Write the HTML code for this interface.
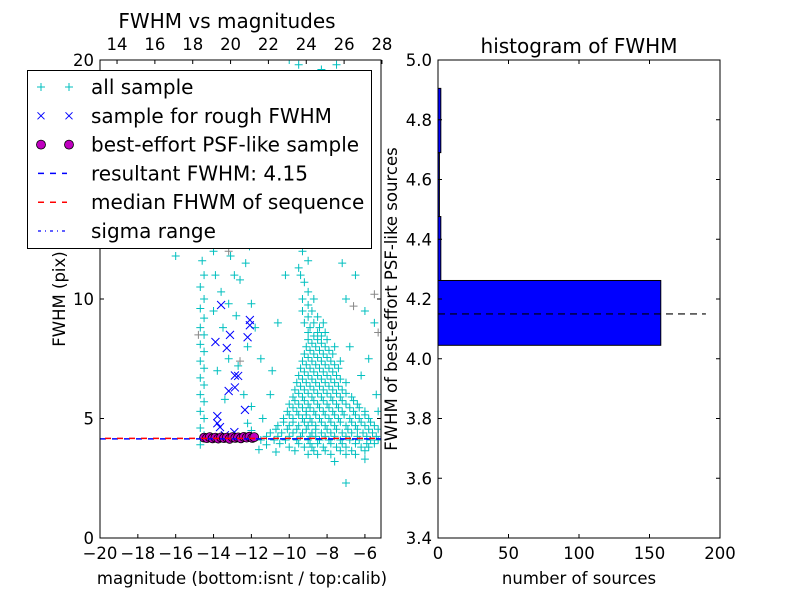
<!DOCTYPE html>
<html><head><meta charset="utf-8"><style>
body{margin:0;background:#fff}
svg{display:block;font-family:"DejaVu Sans","Liberation Sans",sans-serif}
</style></head><body>
<svg id="chart" width="800" height="600"></svg>
<script>
// ---------- data ----------
const xTicks=[-20,-18,-16,-14,-12,-10,-8,-6];
const yTicks=[0,5,10];
const topTicks=[14,16,18,20,22,24,26,28];
const histYTicks=[3.4,3.6,3.8,4.0,4.2,4.4,4.6,4.8,5.0];
const histXTicks=[0,50,100,150,200];
const binEdges=[4.045,4.262,4.476,4.690,4.905];
const binCounts=[158,2,1,2];
const resultFWHM=4.15;
const medianFWHM=4.17;
const allSample=[
-9,3.5,-8.5,3.5,-7.8,3.5,-7,3.5,-6.5,3.5,
-10,3.8,-9.2,3.8,-8.8,3.8,-8.2,3.8,-7.5,3.8,-7,3.8,-6.2,3.8,-5.8,3.8,
-11.5,4.1,-10.8,4.1,-10.2,4.1,-9.6,4.1,-9,4.1,-8.4,4.1,-7.9,4.1,-7.3,4.1,-6.8,4.1,-6.3,4.1,-5.7,4.1,-5.3,4.1,
-11,4.4,-10.4,4.4,-9.8,4.4,-9.3,4.4,-8.8,4.4,-8.3,4.4,-7.8,4.4,-7.2,4.4,-6.7,4.4,-6.1,4.4,-5.6,4.4,
-10.6,4.7,-10,4.7,-9.5,4.7,-9,4.7,-8.6,4.7,-8.1,4.7,-7.6,4.7,-7,4.7,-6.5,4.7,-6,4.7,-5.5,4.7,
-10.3,5,-9.8,5,-9.3,5,-8.9,5,-8.4,5,-7.9,5,-7.4,5,-6.8,5,-6.3,5,-5.8,5,
-10.1,5.3,-9.6,5.3,-9.1,5.3,-8.7,5.3,-8.2,5.3,-7.7,5.3,-7.2,5.3,-6.6,5.3,-6,5.3,
-10,5.6,-9.5,5.6,-9,5.6,-8.5,5.6,-8,5.6,-7.5,5.6,-7,5.6,-6.4,5.6,
-9.8,5.9,-9.3,5.9,-8.8,5.9,-8.3,5.9,-7.8,5.9,-7.3,5.9,-6.7,5.9,
-9.7,6.2,-9.2,6.2,-8.7,6.2,-8.2,6.2,-7.7,6.2,-7.2,6.2,
-9.6,6.5,-9.1,6.5,-8.6,6.5,-8.1,6.5,-7.6,6.5,-7,6.5,
-9.5,6.8,-9,6.8,-8.5,6.8,-8,6.8,-7.5,6.8,
-9.4,7.1,-8.9,7.1,-8.4,7.1,-7.9,7.1,-7.4,7.1,
-9.3,7.4,-8.8,7.4,-8.3,7.4,-7.8,7.4,-7.3,7.4,
-9.2,7.7,-8.7,7.7,-8.2,7.7,-7.7,7.7,
-9.1,8,-8.6,8,-8.1,8,-7.6,8,
-9,8.3,-8.5,8.3,-8,8.3,-9,8.6,-8.5,8.6,-8.1,8.6,
-9.2,9,-8.7,9,-8.2,9,-9.3,9.5,-8.8,9.5,-9.3,10,-8.7,10,
// offset rows for density
-9.7,3.65,-8.7,3.65,-8.1,3.65,-7.3,3.65,-6.7,3.65,-6.0,3.65,
-10.5,3.95,-9.5,3.95,-8.9,3.95,-8.5,3.95,-7.8,3.95,-7.2,3.95,-6.5,3.95,-5.9,3.95,-5.5,3.95,
-11.2,4.25,-10.6,4.25,-10,4.25,-9.4,4.25,-8.9,4.25,-8.6,4.25,-8.1,4.25,-7.6,4.25,-7,4.25,-6.4,4.25,-5.9,4.25,-5.4,4.25,
-10.7,4.55,-10.1,4.55,-9.6,4.55,-9.1,4.55,-8.6,4.55,-8.0,4.55,-7.5,4.55,-6.9,4.55,-6.4,4.55,-5.8,4.55,-5.3,4.55,
-10.3,4.85,-9.8,4.85,-9.2,4.85,-8.8,4.85,-8.3,4.85,-7.8,4.85,-7.3,4.85,-6.7,4.85,-6.2,4.85,-5.7,4.85,
-10.0,5.15,-9.5,5.15,-9.1,5.15,-8.6,5.15,-8.1,5.15,-7.6,5.15,-7.1,5.15,-6.5,5.15,-6.0,5.15,
-9.8,5.45,-9.3,5.45,-8.9,5.45,-8.4,5.45,-7.9,5.45,-7.4,5.45,-6.8,5.45,-6.3,5.45,
-9.7,5.75,-9.2,5.75,-8.7,5.75,-8.2,5.75,-7.7,5.75,-7.2,5.75,-6.6,5.75,
-9.5,6.05,-9,6.05,-8.5,6.05,-8,6.05,-7.5,6.05,-7,6.05,
-9.4,6.35,-8.9,6.35,-8.4,6.35,-7.9,6.35,-7.4,6.35,
-9.3,6.65,-8.8,6.65,-8.3,6.65,-7.8,6.65,-7.3,6.65,
-9.2,6.95,-8.7,6.95,-8.2,6.95,-7.7,6.95,
-9.1,7.25,-8.6,7.25,-8.1,7.25,-7.6,7.25,
-9.0,7.55,-8.5,7.55,-8.0,7.55,-8.9,7.85,-8.4,7.85,-7.9,7.85,
-8.8,8.15,-8.3,8.15,-8.7,8.45,-8.3,8.45,-8.9,8.8,-8.4,8.8,-9.0,9.25,-8.5,9.25,-9.0,9.75,-9.0,10.3,
-9.4,11,-9,11.6,-9.6,12.3,-9.2,13,-9.5,13.8,-9.1,14.5,-9.4,15.2,-9.8,16,-9.3,16.8,-9.6,17.6,-9.2,18.4,-9.7,19.2,-9.5,19.8,
-9.2,10.7,-9.5,11.3,-9.3,12.0,-9.4,12.7,-9.3,13.4,-9.6,14.2,-9.2,15.8,-9.5,16.4,-9.4,17.2,-9.4,18.0,
-10.5,18,-10.8,13.5,-11,15,-8,17,-7.5,13,-7.2,11.5,-10.2,11,-10.6,9,-8.3,19.6,-7.5,19.8,-6.5,11,-6,9.5,-5.5,9,-7,10,
-10.9,7,-11,6,-11.4,5,-12,5.5,-12,4.5,-11.5,7.5,-11.8,8.8,-10.5,14.8,-8.5,12.5,-10,20,-9.9,18.7,-8.8,15.5,
-6.8,8,-6.2,6.8,-5.8,7.5,-5.4,6,-5.3,5.3,-7,2.3,-7.6,3.2,-6,3.3,
-14.7,3.9,-14.5,4.3,-14.7,4.6,-14.5,5,-14.7,5.3,-14.5,5.7,-14.7,6,-14.5,6.4,-14.7,6.7,-14.5,7.1,-14.7,7.4,-14.5,7.8,-14.7,8.1,-14.5,8.5,-14.7,8.8,-14.5,9.2,-14.7,9.6,-14.5,10,-14.7,10.5,-14.5,11,-14.6,11.6,-14.4,12.3,-14.6,13,-14.3,14,
-14,9.5,-13.9,11,-13.6,12.5,-13.4,14,-13.2,15.5,-13.5,17,-13.3,18,-13.6,10.3,-13.2,7.5,-13.4,5.8,-13.1,11.8,-12.9,13.2,
-12.8,9.3,-12.6,10.8,-12.9,16.5,-12.7,7.2,-12.4,6,-12.2,8,-12.3,11.5,-12.1,12.2,-12,9.8,-12.5,14.5,-12.2,4.8,-16,11.8,
-12.6,18.8,-13,19.4,-11.2,3.9,-11.6,3.7,-10.7,3.6,
-13.8,7.0,-13.5,8.8,-13.2,9.8,-12.9,11.0,-12.7,12.5,-13.0,14.8,-12.8,17.5,-13.7,15.8,-14.0,12.0,-12.4,13.5
];
const greySample=[-5.5,10.2,-5.3,8.6,-14.8,8.5,-13.2,12,-6.6,9.7,-12.6,7.4];
const roughSample=[-13.6,9.75,-12.08,9.12,-12.08,8.9,-13.13,8.5,-13.9,8.2,-12.2,8.4,-13.3,7.95,-12.87,6.8,-12.7,6.78,-12.87,6.3,-13.2,6.15,-12.34,5.36,-13.8,5.1,-13.8,4.8,-13.66,4.64,-12.9,4.43,-13.4,4.3];
const psfSample=[-14.5,4.2,-14.35,4.18,-14.2,4.22,-14.05,4.17,-13.9,4.2,-13.75,4.16,-13.6,4.21,-13.45,4.18,-13.3,4.2,-13.15,4.15,-13.0,4.22,-12.85,4.19,-12.7,4.21,-12.55,4.17,-12.4,4.23,-12.25,4.2,-12.1,4.24,-11.95,4.19,-11.85,4.22];

// ---------- helpers ----------
const NS="http://www.w3.org/2000/svg";
const svg=document.getElementById('chart');
function mk(tag,attrs,parent){const e=document.createElementNS(NS,tag);for(const k in attrs)e.setAttribute(k,attrs[k]);(parent||svg).appendChild(e);return e;}
function txt(s,x,y,size,anchor,parent){const t=mk('text',{x:x,y:y,'font-size':size,'text-anchor':anchor||'middle',fill:'#000'},parent);t.textContent=s;return t;}

const L={x0:100,x1:381,y0:538,y1:60};
const xmin=-20,xmax=-5.15,ymin=0,ymax=20;
const sx=v=>L.x0+(v-xmin)/(xmax-xmin)*(L.x1-L.x0);
const sy=v=>L.y0-(v-ymin)/(ymax-ymin)*(L.y0-L.y1);
const calibOff=33.1;
const clip=mk('clipPath',{id:'lc'});mk('rect',{x:L.x0,y:L.y1,width:L.x1-L.x0,height:L.y0-L.y1},clip);
const plotL=mk('g',{'clip-path':'url(#lc)'});



function plus(x,y,c,g){return mk('path',{d:`M${x-4},${y}h8M${x},${y-4}v8`,stroke:c,'stroke-width':1,fill:'none'},g);}
const gAll=mk('g',{},plotL);


for(let i=0;i<greySample.length;i+=2)plus(sx(greySample[i]),sy(greySample[i+1]),'#888',gAll);
for(let i=0;i<allSample.length;i+=2)plus(sx(allSample[i]),sy(allSample[i+1]),'#00bfbf',gAll);
const gR=mk('g',{},plotL);


for(let i=0;i<roughSample.length;i+=2){const x=sx(roughSample[i]),y=sy(roughSample[i+1]);mk('path',{d:`M${x-4},${y-4}l8,8M${x-4},${y+4}l8,-8`,stroke:'#0000ff','stroke-width':1},gR);}
const gP=mk('g',{},plotL);


for(let i=0;i<psfSample.length;i+=2)mk('circle',{cx:sx(psfSample[i]),cy:sy(psfSample[i+1]),r:4.5,fill:'#bf00bf',stroke:'#000','stroke-width':0.8},gP);
const lb=mk('line',{x1:L.x0,x2:L.x1,y1:sy(resultFWHM),y2:sy(resultFWHM),stroke:'#0000ff','stroke-width':1.5,'stroke-dasharray':'6,6'},plotL);

const lr=mk('line',{x1:L.x0+5,x2:L.x1,y1:sy(medianFWHM),y2:sy(medianFWHM),stroke:'#ff0000','stroke-width':1.5,'stroke-dasharray':'6,6'},plotL);


const fr=mk('rect',{x:L.x0,y:L.y1,width:L.x1-L.x0,height:L.y0-L.y1,fill:'none',stroke:'#000','stroke-width':1});

xTicks.forEach(v=>{const x=sx(v);mk('line',{x1:x,x2:x,y1:L.y0,y2:L.y0-4,stroke:'#000'});const t=txt(v<0?'\u2212'+(-v):v,x,559,16.5);});
yTicks.forEach(v=>{const y=sy(v);mk('line',{x1:L.x0,x2:L.x0+4,y1:y,y2:y,stroke:'#000'});mk('line',{x1:L.x1,x2:L.x1-4,y1:y,y2:y,stroke:'#000'});const t=txt(v,94,y+6,16.5,'end');});
{const t=txt('20',94,66,16.5,'end');}
topTicks.forEach(v=>{const x=sx(v-calibOff);mk('line',{x1:x,x2:x,y1:L.y1,y2:L.y1+4,stroke:'#000'});const t=txt(v,x,50,16.5);});
let t;
t=txt('FWHM vs magnitudes',227,28,20);
t=txt('magnitude (bottom:isnt / top:calib)',242,584,16.5);
t=txt('FWHM (pix)',0,0,16.5);t.setAttribute('transform','translate(65,299) rotate(-90)');

const lg=mk('g',{});

mk('rect',{x:27.5,y:70.5,width:344,height:178,fill:'#fff',stroke:'#000','stroke-width':1},lg);
const labels=['all sample','sample for rough FWHM','best-effort PSF-like sample','resultant FWHM: 4.15','median FHWM of sequence','sigma range'];
labels.forEach((s,i)=>{const y=87+i*28.8;
 if(i==0){plus(41,y,'#00bfbf',lg);plus(69,y,'#00bfbf',lg);}
 if(i==1){[41,69].forEach(x=>mk('path',{d:`M${x-3.5},${y-3.5}l7,7M${x-3.5},${y+3.5}l7,-7`,stroke:'#0000ff'},lg));}
 if(i==2){[41,69].forEach(x=>mk('circle',{cx:x,cy:y,r:4.5,fill:'#bf00bf',stroke:'#000','stroke-width':0.8},lg));}
 if(i==3)mk('line',{x1:38,x2:67,y1:y,y2:y,stroke:'#0000ff','stroke-dasharray':'6,6','stroke-width':1.5},lg);
 if(i==4)mk('line',{x1:38,x2:67,y1:y,y2:y,stroke:'#ff0000','stroke-dasharray':'6,6','stroke-width':1.5},lg);
 if(i==5)mk('line',{x1:38,x2:67,y1:y,y2:y,stroke:'#0000ff','stroke-dasharray':'3,4,1,4','stroke-width':1.2},lg);
 const e=txt(s,91,y+7,20,'start',lg);});

const R={x0:438,x1:720,y0:538,y1:60};
const hx=v=>R.x0+v/200*(R.x1-R.x0);
const hy=v=>R.y0-(v-3.4)/1.6*(R.y0-R.y1);
binCounts.forEach((c,i)=>{const b=mk('rect',{x:hx(0),y:hy(binEdges[i+1]),width:hx(c)-hx(0),height:hy(binEdges[i])-hy(binEdges[i+1]),fill:'#0000ff',stroke:'#000','stroke-width':1});});
const hl=mk('line',{x1:hx(0),x2:hx(190),y1:hy(resultFWHM),y2:hy(resultFWHM),stroke:'#000','stroke-width':1.2,'stroke-dasharray':'7,5'});

const fr2=mk('rect',{x:R.x0,y:R.y1,width:R.x1-R.x0,height:R.y0-R.y1,fill:'none',stroke:'#000'});

histXTicks.forEach(v=>{const x=hx(v);mk('line',{x1:x,x2:x,y1:R.y0,y2:R.y0-4,stroke:'#000'});mk('line',{x1:x,x2:x,y1:R.y1,y2:R.y1+4,stroke:'#000'});const e=txt(v,x,559,16.5);});
histYTicks.forEach(v=>{const y=hy(v);mk('line',{x1:R.x0,x2:R.x0+4,y1:y,y2:y,stroke:'#000'});mk('line',{x1:R.x1,x2:R.x1-4,y1:y,y2:y,stroke:'#000'});const e=txt(v.toFixed(1),432,y+6,16.5,'end');});
t=txt('histogram of FWHM',579,53,20);
t=txt('number of sources',579,584,16.5);
t=txt('FWHM of best-effort PSF-like sources',0,0,16.5);t.setAttribute('transform','translate(397,299) rotate(-90)');
</script>
</body></html>
